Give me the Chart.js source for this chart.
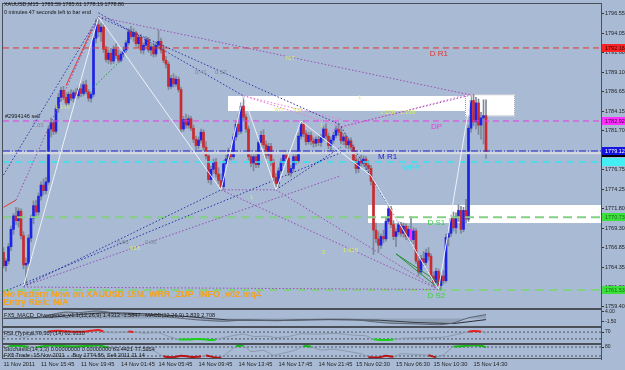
<!DOCTYPE html>
<html>
<head>
<meta charset="utf-8">
<script src="https://cdn.jsdelivr.net/npm/chart.js@4.4.1/dist/chart.umd.min.js"></script>
<style>
  html, body { margin: 0; padding: 0; background: #a8bad4; }
  #wrap { width: 625px; height: 370px; }
</style>
</head>
<body>
<div id="wrap"><canvas id="myChart" width="625" height="370"></canvas></div>
<script>
// ---- data (XAUUSD M15) ----
const barOpen = [1766.3,1764.6,1765.2,1767.0,1769.2,1770.9,1770.3,1771.5,1768.4,1764.7,
  1764.9,1768.1,1770.6,1772.2,1771.4,1773.4,1774.8,1774.1,1775.2,1781.9,
  1782.7,1781.6,1784.5,1785.9,1786.8,1785.9,1785.2,1786.3,1785.8,1786.5,
  1786.1,1787.0,1786.4,1787.5,1786.6,1785.8,1786.3,1793.4,1795.1,1794.2,
  1794.8,1792.0,1790.7,1791.5,1790.5,1792.0,1791.2,1790.6,1791.4,1791.9,
  1792.8,1794.2,1793.6,1794.1,1792.7,1793.5,1791.9,1792.5,1793.2,1791.9,
  1792.3,1791.4,1792.5,1793.0,1791.9,1790.6,1790.1,1787.3,1788.3,1787.6,
  1788.2,1786.9,1781.9,1783.1,1782.4,1783.2,1782.0,1780.6,1779.8,1780.5,
  1781.5,1779.6,1778.5,1775.5,1776.8,1777.7,1776.2,1775.4,1774.6,1777.5,
  1778.1,1779.2,1778.4,1780.9,1782.5,1781.6,1784.8,1783.4,1781.9,1778.4,
  1777.6,1778.4,1777.4,1780.2,1781.1,1779.9,1778.6,1779.7,1777.7,1775.8,
  1775.0,1776.6,1777.8,1778.6,1778.2,1776.4,1776.9,1778.4,1777.9,1781.0,
  1782.5,1781.3,1780.3,1781.1,1780.4,1780.1,1780.6,1780.2,1780.8,1781.9,
  1781.0,1779.8,1780.5,1781.1,1781.9,1781.5,1780.4,1780.9,1779.9,1780.4,
  1779.6,1778.0,1776.9,1777.8,1777.6,1778.1,1777.3,1776.9,1775.3,1769.1,
  1768.0,1767.2,1768.3,1768.0,1770.2,1771.8,1769.8,1768.3,1768.9,1769.8,
  1768.7,1769.6,1768.3,1769.2,1767.9,1769.0,1765.2,1763.8,1765.5,1765.0,
  1766.2,1765.8,1763.3,1762.5,1763.9,1762.1,1763.3,1762.7,1768.2,1768.7,
  1770.6,1769.4,1770.8,1771.6,1769.2,1771.6,1770.5,1782.0,1785.5,1782.8,
  1785.2,1782.4,1783.3,1783.59];
const barHigh = [1766.9,1765.5,1767.4,1769.6,1771.2,1772.0,1771.9,1771.8,1768.9,1765.6,
  1768.5,1771.0,1772.8,1772.9,1773.8,1775.2,1775.6,1775.8,1782.3,1783.3,
  1783.0,1784.9,1786.4,1787.2,1787.3,1786.5,1786.6,1786.9,1786.8,1787.0,
  1787.3,1787.6,1787.9,1788.1,1786.9,1786.6,1793.9,1795.8,1796.1,1795.3,
  1795.2,1792.4,1791.9,1792.1,1792.4,1792.7,1791.9,1791.7,1792.3,1793.1,
  1794.6,1794.9,1794.6,1794.3,1793.8,1793.9,1792.8,1793.6,1793.5,1792.6,
  1792.8,1792.9,1794.4,1793.4,1792.5,1791.1,1790.4,1788.7,1788.9,1788.6,
  1788.5,1787.2,1783.5,1783.8,1783.6,1783.5,1782.4,1781.0,1780.9,1781.9,
  1781.8,1780.3,1778.9,1777.2,1778.1,1778.2,1777.0,1776.2,1777.9,1778.6,
  1779.5,1779.8,1781.3,1782.9,1783.7,1785.2,1786.1,1783.8,1782.3,1779.2,
  1778.9,1778.9,1780.6,1781.6,1781.8,1780.4,1780.1,1780.1,1778.1,1776.3,
  1777.0,1778.2,1779.0,1779.2,1778.9,1777.3,1778.8,1779.0,1781.4,1782.9,
  1782.8,1781.7,1781.5,1781.5,1780.8,1780.9,1781.0,1781.2,1782.3,1782.6,
  1781.4,1780.9,1781.5,1782.3,1782.6,1782.0,1781.3,1781.2,1780.8,1780.8,
  1779.9,1778.6,1778.2,1778.6,1778.5,1778.4,1777.9,1777.3,1775.6,1770.0,
  1768.9,1768.6,1769.1,1770.6,1772.1,1772.1,1770.3,1769.3,1770.2,1770.1,
  1770.0,1769.9,1769.6,1770.8,1769.4,1769.3,1765.8,1765.9,1766.4,1766.7,
  1766.9,1766.1,1763.8,1764.3,1764.2,1763.7,1764.0,1768.6,1769.1,1771.0,
  1771.4,1771.3,1772.3,1772.1,1772.0,1773.0,1782.4,1786.2,1786.3,1785.9,
  1785.7,1784.0,1785.6,1785.61];
const barLow = [1764.3,1763.9,1764.8,1766.5,1768.6,1769.8,1769.5,1768.0,1764.2,1762.2,
  1764.3,1767.6,1769.9,1770.8,1771.0,1772.9,1773.6,1773.7,1774.9,1780.9,
  1781.2,1781.3,1784.0,1785.4,1785.6,1784.8,1784.9,1785.5,1785.3,1785.7,
  1785.8,1786.0,1786.1,1786.3,1785.4,1785.3,1786.0,1792.8,1793.6,1793.0,
  1791.6,1790.4,1790.2,1790.1,1790.2,1790.8,1790.3,1790.4,1791.0,1791.6,
  1792.5,1793.3,1793.0,1792.4,1792.2,1791.5,1791.4,1792.0,1791.6,1791.2,
  1791.0,1791.1,1792.1,1791.5,1790.3,1789.6,1786.9,1787.0,1787.2,1787.3,
  1786.6,1781.5,1781.6,1782.0,1782.0,1781.7,1780.2,1779.3,1779.4,1780.1,
  1779.2,1778.1,1775.1,1774.9,1776.3,1775.8,1775.0,1774.2,1774.2,1776.9,
  1777.8,1778.0,1778.1,1780.5,1781.2,1781.3,1783.0,1781.5,1778.0,1777.1,
  1776.6,1777.0,1777.0,1779.6,1779.5,1778.1,1778.2,1777.3,1775.3,1774.2,
  1774.6,1776.2,1777.3,1777.8,1776.0,1775.9,1776.5,1777.4,1777.6,1780.6,
  1780.9,1779.9,1780.0,1779.9,1779.6,1779.7,1779.8,1779.7,1780.4,1780.6,
  1779.4,1779.2,1780.1,1780.8,1781.1,1780.0,1779.9,1779.5,1779.4,1779.2,
  1777.6,1776.3,1776.4,1777.2,1777.2,1776.8,1776.5,1774.8,1766.0,1767.5,
  1766.4,1766.8,1767.5,1767.7,1769.9,1769.4,1767.9,1767.0,1768.5,1768.3,
  1768.2,1767.9,1767.8,1767.6,1767.4,1764.9,1763.3,1763.5,1764.6,1764.7,
  1765.3,1762.9,1762.0,1762.2,1761.6,1761.7,1762.3,1762.5,1767.1,1768.3,
  1769.0,1768.7,1770.2,1768.7,1768.9,1770.0,1770.2,1781.5,1782.3,1781.9,
  1781.2,1780.6,1780.0,1778.19];
const barClose = [1764.6,1765.2,1767.0,1769.2,1770.9,1770.3,1771.5,1768.4,1764.7,1764.9,
  1768.1,1770.6,1772.2,1771.4,1773.4,1774.8,1774.1,1775.2,1781.9,1782.7,
  1781.6,1784.5,1785.9,1786.8,1785.9,1785.2,1786.3,1785.8,1786.5,1786.1,
  1787.0,1786.4,1787.5,1786.6,1785.8,1786.3,1793.4,1795.1,1794.2,1794.8,
  1792.0,1790.7,1791.5,1790.5,1792.0,1791.2,1790.6,1791.4,1791.9,1792.8,
  1794.2,1793.6,1794.1,1792.7,1793.5,1791.9,1792.5,1793.2,1791.9,1792.3,
  1791.4,1792.5,1793.0,1791.9,1790.6,1790.1,1787.3,1788.3,1787.6,1788.2,
  1786.9,1781.9,1783.1,1782.4,1783.2,1782.0,1780.6,1779.8,1780.5,1781.5,
  1779.6,1778.5,1775.5,1776.8,1777.7,1776.2,1775.4,1774.6,1777.5,1778.1,
  1779.2,1778.4,1780.9,1782.5,1781.6,1784.8,1783.4,1781.9,1778.4,1777.6,
  1778.4,1777.4,1780.2,1781.1,1779.9,1778.6,1779.7,1777.7,1775.8,1775.0,
  1776.6,1777.8,1778.6,1778.2,1776.4,1776.9,1778.4,1777.9,1781.0,1782.5,
  1781.3,1780.3,1781.1,1780.4,1780.1,1780.6,1780.2,1780.8,1781.9,1781.0,
  1779.8,1780.5,1781.1,1781.9,1781.5,1780.4,1780.9,1779.9,1780.4,1779.6,
  1778.0,1776.9,1777.8,1777.6,1778.1,1777.3,1776.9,1775.3,1769.1,1768.0,
  1767.2,1768.3,1768.0,1770.2,1771.8,1769.8,1768.3,1768.9,1769.8,1768.7,
  1769.6,1768.3,1769.2,1767.9,1769.0,1765.2,1763.8,1765.5,1765.0,1766.2,
  1765.8,1763.3,1762.5,1763.9,1762.1,1763.3,1762.7,1768.2,1768.7,1770.6,
  1769.4,1770.8,1771.6,1769.2,1771.6,1770.5,1782.0,1785.5,1782.8,1785.2,
  1782.4,1783.3,1783.59,1778.86];
const markedBars = [163];

// time axis (bar index -> label) and price axis
const timeTicks = [0, 15, 31, 47, 62, 78, 94, 110, 126, 141, 157, 172, 188];
const timeLabels = ['11 Nov 2011', '11 Nov 15:45', '11 Nov 19:45', '14 Nov 01:45', '14 Nov 05:45',
  '14 Nov 09:45', '14 Nov 13:45', '14 Nov 17:45', '14 Nov 21:45', '15 Nov 02:30',
  '15 Nov 06:30', '15 Nov 10:30', '15 Nov 14:30'];
const priceTicks = [1796.55, 1794.05, 1791.60, 1789.10, 1786.65, 1784.15, 1781.70, 1779.20,
  1776.75, 1774.25, 1771.80, 1769.30, 1766.85, 1764.35, 1761.90, 1759.40];

// pivot levels
const levelNames = ['D R1', 'DP', 'M R1', 'WPP', 'D S1', 'D S2'];
const levelPrices = [1792.16, 1782.92, 1779.12, 1777.73, 1770.73, 1761.53];
const levelLabelBars = [170.5, 171, 149.8, 159.4, 169.6, 169.6];
const bidPrice = 1778.86;

// supply / demand zones
const zoneStart = [89.8, 184.6, 145.8];
const zoneEnd = [184.6, 204.6, 239];
const zoneTop = [1786.08, 1786.3, 1772.28];
const zoneBottom = [1784.18, 1783.5, 1770.0];

// ZUP zigzag and pattern lines: [bar1, price1, bar2, price2]
const zigzagBars = [8, 38, 87, 96, 109, 119, 147, 174, 187];
const zigzagPrices = [1762.0, 1796.1, 1774.2, 1786.1, 1774.2, 1782.9, 1776.0, 1761.6, 1786.2];
const patternLines = [
  [0, 1776.1, 38, 1796.1], [5, 1772.9, 38, 1796.1], [0, 1772.0, 5, 1772.9], [25, 1787.4, 35.5, 1794.6],
  [36, 1787.2, 48, 1790.9], [38, 1796.1, 135, 1782.4], [38, 1796.6, 96, 1786.1], [8, 1762.0, 87, 1774.2],
  [0, 1761.3, 135, 1778.9], [8, 1762.0, 135, 1776.0], [8, 1761.9, 174, 1761.6], [87, 1774.2, 109, 1774.2],
  [109, 1774.2, 135, 1779.6], [87, 1774.2, 174, 1761.6], [109, 1774.2, 174, 1761.6], [135, 1782.2, 174, 1761.6],
  [38, 1796.1, 187, 1786.2], [96, 1786.1, 135, 1783.1], [96, 1786.1, 135, 1782.2], [135, 1782.2, 187, 1786.2],
  [130, 1781.6, 187, 1786.4], [157, 1766.1, 175, 1761.5], [157, 1766.1, 175, 1762.3]
];
const patternKinds = ['blue', 'purple', 'red', 'red', 'green', 'blue', 'blue', 'blue',
  'blue', 'purple', 'purple', 'purple', 'blue', 'purple', 'purple', 'blue',
  'purple', 'pink', 'pink', 'purple', 'pink', 'lime', 'lime'];

// small chart notes
const noteBars = [20.6, 112.6, 107.4, 115.4, 141.8, 126.6, 150.6, 158.6, 98.6, 127.4, 135.8, 50.6, 45.4, 56.6, 11.4, 76.6, 84.6];
const notePrices = [1784.6, 1790.9, 1784.26, 1784.26, 1785.9, 1782.4, 1784.06, 1784.06, 1773.3, 1766.3, 1766.55, 1766.8, 1767.6, 1767.6, 1782.4, 1789.1, 1789.1];
const noteTexts = ['1.146', '707', '.707', '707', '1', '1', '1.128', '1.136', '1', '2', '1.618', '618', '0.66', '0.66', '1.03', '0.41', '0.52'];
const noteMuted = [false, false, false, false, false, false, false, false, false, false, false, false, true, true, true, true, true];

// indicator readings (bar index, value)
const macdBars = [0, 15, 20, 25, 30, 37, 40, 47, 55, 62, 70, 78, 88, 96, 110, 120, 130, 140, 148, 155, 165, 175, 180, 186, 193];
const macdValues = [0.2, 0.5, 2.5, 3.6, 3.3, 4.2, 3.9, 2.6, 1.8, 1.5, 0.3, -0.8, -1.5, -0.9, -1.2, -0.6, -0.4, -0.5, -1.8, -2.6, -3.0, -3.4, -2.4, 0.4, 2.2];
const signalBars = [0, 20, 30, 40, 50, 62, 75, 90, 110, 130, 150, 165, 180, 193];
const signalValues = [0, 0.8, 2.2, 3.2, 3.0, 2.2, 0.9, -0.8, -1.0, -0.6, -0.9, -2.2, -2.8, -0.6];
const rsiBars = [0, 4, 8, 12, 16, 18, 22, 28, 33, 36, 38, 40, 44, 50, 52, 56, 62, 66, 70, 74, 77, 80, 82, 85, 88, 93, 96,
  100, 105, 109, 114, 119, 125, 133, 140, 145, 148, 152, 156, 160, 166, 172, 176, 180, 186, 188, 191, 193];
const rsiValues = [42, 55, 38, 56, 66, 74, 78, 72, 74, 80, 82, 74, 66, 73, 71, 63, 66, 45, 28, 26, 29, 28, 24, 27, 38, 52, 58,
  44, 46, 38, 44, 60, 58, 62, 52, 48, 28, 24, 27, 34, 36, 38, 40, 52, 72, 76, 73, 62];
const stochBars = [0, 2, 6, 10, 13, 18, 22, 28, 33, 38, 42, 46, 50, 55, 60, 64, 68, 71, 75, 79, 81, 84, 87, 90, 93, 96, 99,
  104, 108, 112, 116, 120, 123, 127, 132, 138, 143, 146, 150, 153, 156, 159, 165, 170, 173, 176, 180, 184, 188, 191, 193];
const stochValues = [60, 84, 88, 82, 78, 90, 88, 84, 86, 92, 75, 62, 70, 58, 55, 18, 12, 22, 14, 16, 24, 12, 10, 45, 84, 88, 50,
  58, 25, 40, 55, 85, 82, 60, 66, 50, 35, 14, 10, 22, 15, 35, 30, 25, 12, 28, 82, 86, 92, 88, 78];

// ---- styling ----
const BG = '#a8bad4';
const FONT = "'Liberation Sans', Arial, sans-serif";
const lineColors = { blue: '#2c34a4', purple: '#9a4cb4', pink: '#ec78dc', red: '#e43a2c', green: '#2e9a34', lime: '#2f8f3a' };
const levelColors = ['#e8332a', '#e43ee4', '#2323c8', '#2ee6f2', '#84d084', '#84d084'];
const levelDash = [[6, 4], [6, 4], [7, 2, 1, 2], [7, 5], [9, 5], [9, 5]];
const levelWidth = [1, 1, 1, 1.5, 2, 2];

const last = barClose.length - 1;
const pts = (xs, ys) => xs.map((v, i) => ({ x: v, y: ys[i] }));

function plainLine(data, color, dash, width, axis, order) {
  return { type: 'line', data, borderColor: color, borderWidth: width, borderDash: dash,
    pointRadius: 0, fill: false, tension: 0, yAxisID: axis || 'y', order: order || 1 };
}

const datasets = [];

// candles: wick + body as floating bars
datasets.push({
  type: 'bar', label: 'wick',
  data: barLow.map((l, i) => ({ x: i, y: [l, barHigh[i]] })),
  backgroundColor: '#7f8898', barThickness: 1, grouped: false, order: 6, yAxisID: 'y'
});
datasets.push({
  type: 'bar', label: 'body',
  data: barOpen.map((o, i) => ({ x: i, y: [o, barClose[i]] })),
  backgroundColor: barOpen.map((o, i) => markedBars.includes(i) ? '#ff2cff' : (barClose[i] >= o ? '#1c22e6' : '#cc2a2e')),
  barThickness: 2, minBarLength: 1, grouped: false, order: 5, yAxisID: 'y'
});

// pivot levels + bid line
const xEnds = [-0.2, 239];
levelPrices.forEach((p, k) => {
  datasets.push(plainLine(pts(xEnds, [p, p]), levelColors[k], levelDash[k], levelWidth[k], 'y', 3));
});
datasets.push(plainLine(pts(xEnds, [bidPrice, bidPrice]), '#d3d7de', [], 2.5, 'y', 4));

// zigzag + pattern lines
datasets.push(plainLine(pts(zigzagBars, zigzagPrices), '#eef2f8', [], 1, 'y', 2));
patternLines.forEach((s, k) => {
  const kind = patternKinds[k];
  const solid = kind === 'red' || kind === 'lime';
  datasets.push(plainLine(pts([s[0], s[2]], [s[1], s[3]]), lineColors[kind], solid ? [] : [1.5, 2], 1, 'y', 2));
});

// MACD panel
datasets.push({ type: 'line', data: pts(macdBars, macdValues), yAxisID: 'yMacd', borderColor: '#5a626e',
  borderWidth: 1, pointRadius: 0, tension: 0.2, fill: 'origin', backgroundColor: 'rgba(90,100,115,0.28)', order: 1 });
datasets.push(plainLine(pts(signalBars, signalValues), '#2b2f36', [], 1, 'yMacd', 1));

// RSI panel
[70, 30].forEach(v => datasets.push(plainLine(pts(xEnds, [v, v]), '#4c5564', [2, 2], 1, 'yRsi', 2)));
datasets.push({ type: 'line', data: pts(rsiBars, rsiValues), yAxisID: 'yRsi', pointRadius: 0, tension: 0.2, order: 1,
  borderColor: '#8c98aa', borderWidth: 1,
  segment: {
    borderColor: c => { const m = (c.p0.parsed.y + c.p1.parsed.y) / 2; return m > 70 ? '#e42020' : (m < 30 ? '#18d018' : '#8c98aa'); },
    borderWidth: c => { const m = (c.p0.parsed.y + c.p1.parsed.y) / 2; return (m > 70 || m < 30) ? 2 : 1; }
  } });

// Stochastic panel
[80, 20].forEach(v => datasets.push(plainLine(pts(xEnds, [v, v]), '#4c5564', [2, 2], 1, 'yStoch', 2)));
datasets.push({ type: 'line', data: pts(stochBars, stochValues), yAxisID: 'yStoch', pointRadius: 0, tension: 0.2, order: 1,
  borderColor: '#8c98aa', borderWidth: 1,
  segment: {
    borderColor: c => { const m = (c.p0.parsed.y + c.p1.parsed.y) / 2; return m > 80 ? '#14b814' : (m < 20 ? '#b81414' : '#8c98aa'); },
    borderWidth: c => { const m = (c.p0.parsed.y + c.p1.parsed.y) / 2; return (m > 80 || m < 20) ? 2 : 1; }
  } });

// ---- drawing helpers (texts, zones, frames) ----
const overlay = {
  id: 'overlay',
  beforeDraw(chart) {
    const { ctx, width, height } = chart;
    ctx.save();
    ctx.fillStyle = BG;
    ctx.fillRect(0, 0, width, height);
    ctx.restore();
  },
  beforeDatasetsDraw(chart) {
    const { ctx, chartArea } = chart;
    const x = chart.scales.x, y = chart.scales.y;
    ctx.save();
    for (let k = 0; k < zoneStart.length; k++) {
      const x1 = x.getPixelForValue(zoneStart[k]);
      const x2 = Math.min(x.getPixelForValue(zoneEnd[k]), chartArea.right);
      const y1 = y.getPixelForValue(zoneTop[k]);
      const y2 = y.getPixelForValue(zoneBottom[k]);
      ctx.fillStyle = '#ffffff';
      ctx.fillRect(x1, y1, x2 - x1, y2 - y1);
      if (k === 1) {
        ctx.setLineDash([1, 1]);
        ctx.strokeStyle = '#8c94a4';
        ctx.strokeRect(x1 + 0.5, y1 + 0.5, x2 - x1 - 1, y2 - y1 - 1);
        ctx.setLineDash([]);
      }
    }
    ctx.restore();
  },
  afterDatasetsDraw(chart) {
    const { ctx } = chart;
    const x = chart.scales.x, y = chart.scales.y;
    ctx.save();
    ctx.textBaseline = 'middle';
    ctx.textAlign = 'left';
    ctx.font = '6px ' + FONT;
    noteTexts.forEach((t, k) => {
      ctx.fillStyle = noteMuted[k] ? '#7e8898' : '#d6ec6a';
      ctx.fillText(t, x.getPixelForValue(noteBars[k]), y.getPixelForValue(notePrices[k]));
    });
    ctx.font = '8px ' + FONT;
    levelNames.forEach((n, k) => {
      ctx.fillStyle = k === 4 || k === 5 ? '#3ed03e' : levelColors[k];
      ctx.fillText(n, x.getPixelForValue(levelLabelBars[k]), y.getPixelForValue(levelPrices[k]) + 6);
    });
    ctx.fillStyle = '#1a1a1a';
    ctx.font = '5.6px ' + FONT;
    ctx.fillText('#2994146 sell', 5, y.getPixelForValue(levelPrices[1]) - 5);
    ctx.restore();
  },
  afterDraw(chart) {
    const { ctx, chartArea } = chart;
    const y = chart.scales.y;
    ctx.save();
    // panel frames
    ctx.strokeStyle = '#4a4f58';
    ctx.lineWidth = 1;
    ['y', 'yMacd', 'yRsi', 'yStoch'].forEach(id => {
      const s = chart.scales[id];
      ctx.strokeRect(chartArea.left - 0.5, s.top + 0.5, chartArea.right - chartArea.left + 1, s.bottom - s.top - 1);
    });
    // price boxes on the axis
    const boxes = [
      [levelPrices[0], '#ff2424', '#2a0000'],
      [levelPrices[1], '#ff30ff', '#3a003a'],
      [bidPrice, '#000000', '#ffffff'],
      [levelPrices[2], '#1414e0', '#ffffff'],
      [levelPrices[3], '#44eef4', '#44eef4'],
      [levelPrices[4], '#3ce03c', '#1a6a1a'],
      [levelPrices[5], '#3ce03c', '#1a6a1a']
    ];
    ctx.font = '5.5px ' + FONT;
    ctx.textBaseline = 'middle';
    boxes.forEach(b => {
      const py = Math.round(y.getPixelForValue(b[0]));
      ctx.fillStyle = b[1];
      ctx.fillRect(chartArea.right + 1, py - 4, 24, 8);
      ctx.fillStyle = b[2];
      ctx.fillText(b[0].toFixed(2), chartArea.right + 4, py);
    });
    // header
    ctx.fillStyle = '#141414';
    ctx.font = '5.4px ' + FONT;
    ctx.fillText('XAUUSD,M15  ' + barOpen[last].toFixed(2) + ' ' + barHigh[last].toFixed(2) + ' ' +
      barLow[last].toFixed(2) + ' ' + barClose[last].toFixed(2), 4, 5);
    ctx.fillText('0 minutes 47 seconds left to bar end', 4, 13);
    // ZUP info
    ctx.fillStyle = '#f2a21c';
    ctx.font = 'bold 9px ' + FONT;
    ctx.fillText('No Pattern Now on XAUUSD 15M, WRR_ZUP_INFO_v02.mq4', 3, 295);
    ctx.fillText('Entry Risk: N/A', 3, 303);
    // indicator captions
    ctx.fillStyle = '#1a1a1a';
    ctx.font = '5.6px ' + FONT;
    ctx.fillText('FX5_MACD_Divergence_v1.1(12,26,9) 1.4313 -1.5847   MACD(12,26,9) 3.839 2.708', 4, chart.scales.yMacd.top + 6);
    ctx.fillText('RSI (Typical,70,30) (14) 62.9330', 4, chart.scales.yRsi.top + 6);
    ctx.fillText('Stochastic(14,3,3) 0.00000000 0.00000000 83.4421 77.5954', 4, chart.scales.yStoch.top + 5);
    ctx.fillText('FX5 Trade: 15 Nov 2011 ... Buy 1774.86, Sell 2011.11.14', 4, chart.scales.yStoch.top + 11);
    ctx.restore();
  }
};

function rightAxis(weight, min, max, tickValues, fmt, size) {
  return {
    type: 'linear', position: 'right', stack: 'pane', stackWeight: weight, min, max, offset: false,
    grid: { display: true, drawOnChartArea: false, drawTicks: true, tickLength: 3, color: '#333' },
    border: { display: true, color: '#4a4f58' },
    afterBuildTicks: s => { s.ticks = tickValues.map(v => ({ value: v })); },
    afterFit: s => { s.width = 24; s.paddingTop = 0; s.paddingBottom = 0; },
    ticks: { padding: 1, color: '#1e1e1e', font: { size: size, family: FONT }, callback: v => fmt(v) }
  };
}

new Chart(document.getElementById('myChart'), {
  type: 'bar',
  data: { datasets },
  options: {
    responsive: false,
    animation: false,
    devicePixelRatio: 1,
    layout: { padding: { left: 3, top: 3, right: 0, bottom: 0 } },
    plugins: { legend: { display: false }, tooltip: { enabled: false } },
    scales: {
      x: {
        type: 'linear', position: 'bottom', min: -0.2, max: 239, offset: false,
        grid: { display: false, drawTicks: false, offset: false }, border: { display: false },
        afterBuildTicks: s => { s.ticks = timeTicks.map(v => ({ value: v })); },
        afterFit: s => { s.height = 11; s.paddingLeft = 0; s.paddingRight = 0; },
        ticks: { autoSkip: false, maxRotation: 0, minRotation: 0, align: 'start', padding: 2, color: '#1e1e1e',
          font: { size: 5.7, family: FONT }, callback: v => timeLabels[timeTicks.indexOf(v)] }
      },
      y: rightAxis(306, 1759.12, 1797.85, priceTicks, v => v.toFixed(2), 5.5),
      yMacd: rightAxis(18, -4.7, 5.3, [4.0, 0.5, -1.5], v => v.toFixed(2), 5),
      yRsi: rightAxis(17, 0, 100, [70, 30], v => String(v), 5),
      yStoch: rightAxis(15, 0, 100, [80, 20], v => String(v), 5)
    }
  },
  plugins: [overlay]
});
</script>
</body>
</html>
